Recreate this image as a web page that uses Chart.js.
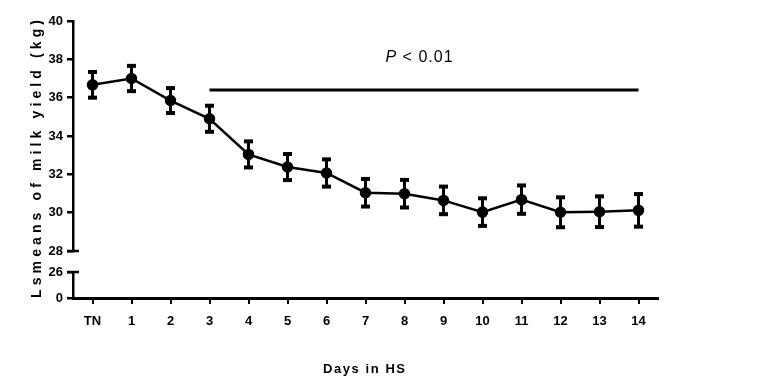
<!DOCTYPE html>
<html>
<head>
<meta charset="utf-8">
<script src="https://cdn.jsdelivr.net/npm/chart.js@4.4.1/dist/chart.umd.min.js"></script>
<style>
  html, body { margin: 0; padding: 0; background: #fff; }
</style>
</head>
<body>
<canvas id="milk-chart" width="764" height="388"></canvas>
<script>
const days = ['TN', '1', '2', '3', '4', '5', '6', '7', '8', '9', '10', '11', '12', '13', '14'];
const milkYield = [36.67, 37.0, 35.85, 34.9, 33.04, 32.38, 32.07, 31.04, 30.99, 30.64, 30.03, 30.68, 30.02, 30.05, 30.12];
const milkSE = [0.67, 0.66, 0.65, 0.68, 0.68, 0.68, 0.71, 0.72, 0.72, 0.72, 0.72, 0.74, 0.78, 0.8, 0.85];
const sigLine = [null, null, null, 36.4, 36.4, 36.4, 36.4, 36.4, 36.4, 36.4, 36.4, 36.4, 36.4, 36.4, 36.4];
const sigLabel = '< 0.01';
const upperTicks = [28, 30, 32, 34, 36, 38, 40];
const lowerTicks = [0, 26];
const xTitle = 'Days in HS';
const yTitle = 'Lsmeans of milk yield (kg)';

const tickFont = { family: "'Liberation Sans', Arial, sans-serif", size: 13, weight: 'bold' };

// error bars, axis break caps, titles and the P label
const extras = {
    id: 'extras',
    afterDatasetsDraw(chart) {
        const c = chart.ctx;
        const x = chart.scales.x;
        const y = chart.scales.yHigh;
        c.save();
        c.fillStyle = '#000';
        c.strokeStyle = '#000';
        milkYield.forEach((v, i) => {
            const px = x.getPixelForValue(i);
            const top = y.getPixelForValue(v + milkSE[i]);
            const bot = y.getPixelForValue(v - milkSE[i]);
            c.lineWidth = 3;
            c.beginPath();
            c.moveTo(px, top);
            c.lineTo(px, bot);
            c.stroke();
            c.fillRect(px - 4.5, top - 2, 9, 4);
            c.fillRect(px - 4.5, bot - 2, 9, 4);
        });
        c.restore();
    },
    afterDraw(chart) {
        const c = chart.ctx;
        const area = chart.chartArea;
        const yHigh = chart.scales.yHigh;
        const yLow = chart.scales.yLow;
        const x = chart.scales.x;
        c.save();
        c.strokeStyle = '#000';
        c.lineWidth = 2.5;
        [yHigh.getPixelForValue(upperTicks[0]), yLow.getPixelForValue(lowerTicks[1])].forEach(py => {
            c.beginPath();
            c.moveTo(area.left - 6, py);
            c.lineTo(area.left + 6, py);
            c.stroke();
        });

        c.fillStyle = '#000';
        c.textAlign = 'left';
        c.textBaseline = 'middle';

        // x title
        c.font = "bold 13px 'Liberation Sans', Arial, sans-serif";
        c.letterSpacing = '0px';
        let w = c.measureText(xTitle).width;
        let sp = (82 - w) / (xTitle.length - 1);
        c.letterSpacing = sp + 'px';
        c.fillText(xTitle, 323, 369);

        // y title
        c.font = "bold 14px 'Liberation Sans', Arial, sans-serif";
        c.letterSpacing = '0px';
        w = c.measureText(yTitle).width;
        sp = (278 - w) / (yTitle.length - 1);
        c.translate(37, 298);
        c.rotate(-Math.PI / 2);
        c.letterSpacing = sp + 'px';
        c.fillText(yTitle, 0, 0);
        c.restore();

        // P label over the significance bar
        c.save();
        c.fillStyle = '#000';
        c.textBaseline = 'middle';
        const cx = (x.getPixelForValue(3) + x.getPixelForValue(14)) / 2 - 5;
        const cy = yHigh.getPixelForValue(38.1);
        c.font = "italic 16px 'Liberation Sans', Arial, sans-serif";
        const pw = c.measureText('P').width;
        c.font = "16px 'Liberation Sans', Arial, sans-serif";
        c.letterSpacing = '1px';
        const rest = ' ' + sigLabel;
        const rw = c.measureText(rest).width;
        let left = cx - (pw + rw) / 2;
        c.font = "italic 16px 'Liberation Sans', Arial, sans-serif";
        c.letterSpacing = '0px';
        c.fillText('P', left, cy);
        c.font = "16px 'Liberation Sans', Arial, sans-serif";
        c.letterSpacing = '1px';
        c.fillText(rest, left + pw + 1, cy);
        c.restore();
    }
};

const axisWidth = s => { s.width = 73; };

new Chart(document.getElementById('milk-chart'), {
    type: 'line',
    data: {
        labels: days,
        datasets: [
            {
                data: milkYield,
                yAxisID: 'yHigh',
                borderColor: '#000',
                backgroundColor: '#000',
                borderWidth: 2.5,
                pointRadius: 4.5,
                pointHoverRadius: 4.5,
                tension: 0
            },
            {
                data: sigLine,
                yAxisID: 'yHigh',
                borderColor: '#000',
                borderWidth: 3,
                pointRadius: 0,
                spanGaps: false
            }
        ]
    },
    options: {
        responsive: false,
        animation: false,
        layout: { padding: { top: 21, right: 106, bottom: 0, left: 0 } },
        plugins: { legend: { display: false }, tooltip: { enabled: false } },
        scales: {
            x: {
                type: 'category',
                offset: true,
                grid: { drawOnChartArea: false, tickLength: 6, color: '#000', lineWidth: 2 },
                border: { color: '#000', width: 3 },
                ticks: { color: '#000', font: tickFont, padding: 10, maxRotation: 0, autoSkip: false },
                afterFit(s) { s.height = 90; }
            },
            yLow: {
                type: 'linear',
                position: 'left',
                stack: 'y',
                stackWeight: 26,
                min: 0,
                max: 26,
                grid: { drawOnChartArea: false, tickLength: 6, color: '#000', lineWidth: 2.5 },
                border: { color: '#000', width: 2.5 },
                ticks: { color: '#000', font: tickFont, padding: 4, autoSkip: false },
                afterBuildTicks(s) { s.ticks = lowerTicks.map(v => ({ value: v })); },
                afterFit: axisWidth
            },
            yGap: {
                type: 'linear',
                position: 'left',
                stack: 'y',
                stackWeight: 21,
                min: 0,
                max: 1,
                grid: { display: false },
                border: { display: false },
                ticks: { display: false },
                afterFit: axisWidth
            },
            yHigh: {
                type: 'linear',
                position: 'left',
                stack: 'y',
                stackWeight: 230,
                min: 28,
                max: 40,
                grid: { drawOnChartArea: false, tickLength: 6, color: '#000', lineWidth: 2.5 },
                border: { color: '#000', width: 2.5 },
                ticks: { color: '#000', font: tickFont, padding: 4, autoSkip: false },
                afterBuildTicks(s) { s.ticks = upperTicks.map(v => ({ value: v })); },
                afterFit: axisWidth
            }
        }
    },
    plugins: [extras]
});
</script>
</body>
</html>
